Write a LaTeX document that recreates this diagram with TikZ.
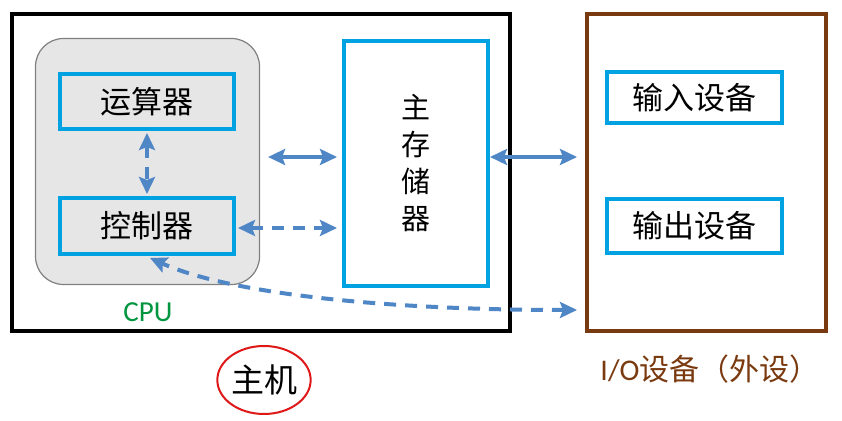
\documentclass[tikz,border=0pt]{standalone}
\usepackage{fontspec}
\setmainfont{Carlito}
\newfontfamily\cjk{Noto Sans CJK SC}
\usetikzlibrary{arrows.meta,shapes.geometric}

\definecolor{unitblue}{RGB}{0,162,226}
\definecolor{busblue}{RGB}{79,134,198}
\definecolor{iobrown}{RGB}{122,58,16}
\definecolor{cpugreen}{RGB}{0,150,64}
\definecolor{cpugray}{RGB}{230,230,230}
\definecolor{markred}{RGB}{222,24,24}

\tikzstyle{frame}=[draw, line width=2pt, minimum height=158.5pt]
\tikzstyle{unit}=[draw=unitblue, line width=2pt, font={\fontsize{15.5pt}{18pt}\cjk}]
\tikzstyle{bus}=[draw=busblue, line width=2pt, {Stealth[length=8.5pt,width=8pt,inset=1.5pt]}-{Stealth[length=8.5pt,width=8pt,inset=1.5pt]}]
\tikzstyle{ctrlbus}=[bus, dash pattern=on 6pt off 4.5pt]

\begin{document}
\begin{tikzpicture}[x=0.5pt, y=-0.5pt]
    \useasboundingbox [fill=white] (0,0) rectangle (842,421);

    % host and peripherals
    \node [frame, minimum width=249pt] (host) at (261,172.5) {};
    \node [frame, draw=iobrown, minimum width=119.5pt] (io) at (706.5,172.5) {};

    % cpu
    \node [draw=black!50, line width=0.6pt, fill=cpugray, rounded corners=14pt,
           minimum width=112pt, minimum height=123pt] (cpu) at (147.5,161.5) {};
    \node [unit, fill=cpugray, minimum width=87pt, minimum height=27.5pt] (alu) at (147,101.5) {运算器};
    \node [unit, fill=cpugray, minimum width=87pt, minimum height=28pt] (ctrl) at (147,226) {控制器};
    \node [font={\fontsize{14.5pt}{17pt}\selectfont}, text=cpugreen] (cpuLabel) at (148,312) {CPU};

    % main memory
    \node [unit, fill=white, align=center, minimum width=72pt, minimum height=122.5pt,
           font={\fontsize{14.5pt}{18.5pt}\cjk}] (mem) at (416,163.5) {主\\存\\储\\器};

    % i/o devices
    \node [unit, fill=white, minimum width=87.5pt, minimum height=25.5pt] (inDev) at (694.5,97.5) {输入设备};
    \node [unit, fill=white, minimum width=87.5pt, minimum height=27pt] (outDev) at (694.5,226) {输出设备};

    % labels
    \node [ellipse, draw=markred, line width=1pt, inner sep=0pt, minimum width=43pt, minimum height=34pt,
           font={\fontsize{16.5pt}{18pt}\cjk}] (hostLabel) at (264,380) {主机};
    \node [text=iobrown, font={\fontsize{15pt}{18pt}\selectfont}] (ioLabel) at (710,369) {I/O{\cjk 设备（外设）}};

    % buses
    \draw [bus] ([xshift=4pt,yshift=2.25pt]cpu.east) -- ([xshift=-2.5pt,yshift=3.25pt]mem.west);
    \draw [ctrlbus] ([yshift=-1pt]alu.south) -- ([yshift=1pt]ctrl.north);
    \draw [ctrlbus] ([xshift=1pt,yshift=-1pt]ctrl.east) -- ([xshift=-2.5pt,yshift=-32.25pt]mem.west);
    \draw [bus] ([yshift=3.25pt]mem.east) -- ([xshift=-4pt,yshift=7.75pt]io.west);
    \draw [ctrlbus] ([xshift=-4pt,yshift=11.5pt]io.south west) .. controls (400,310) and (235,296) .. ([xshift=1.5pt,yshift=-1pt]ctrl.south);
\end{tikzpicture}
\end{document}
